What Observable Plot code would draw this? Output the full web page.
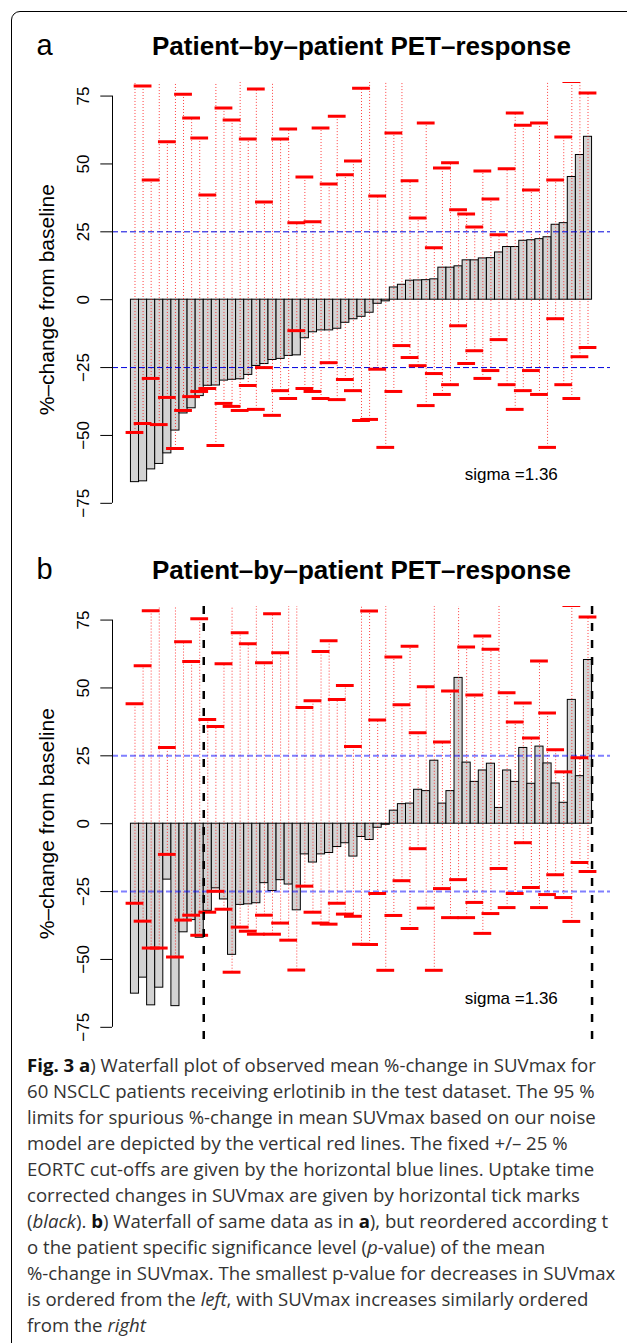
<!DOCTYPE html>
<html><head><meta charset="utf-8">
<script src="https://cdn.jsdelivr.net/npm/d3@7"></script>
<script src="https://cdn.jsdelivr.net/npm/@observablehq/plot@0.6"></script>
<style>
html,body{margin:0;padding:0;background:#fff;}
body{width:627px;height:1343px;overflow:hidden;position:relative;}
#frame{position:absolute;left:11px;top:11px;width:700px;height:1400px;border:1.5px solid #000;border-radius:9px;box-sizing:border-box;}
.panel{position:absolute;left:0;}
.panel svg{display:block;overflow:visible;}
#caption{position:absolute;left:27px;top:1052px;font-family:"Open Sans",sans-serif;font-size:18.6px;line-height:26px;color:#333;letter-spacing:0px;white-space:nowrap;}
#caption b{color:#111;}
</style></head><body>
<div id="frame"></div>
<div id="pa" class="panel" style="top:0px"></div>
<div id="pb" class="panel" style="top:524.4px"></div>
<div id="caption">
<div><b>Fig. 3 a</b>) Waterfall plot of observed mean %-change in SUVmax for</div>
<div>60 NSCLC patients receiving erlotinib in the test dataset. The 95 %</div>
<div>limits for spurious %-change in mean SUVmax based on our noise</div>
<div>model are depicted by the vertical red lines. The fixed +/– 25 %</div>
<div>EORTC cut-offs are given by the horizontal blue lines. Uptake time</div>
<div>corrected changes in SUVmax are given by horizontal tick marks</div>
<div>(<i>black</i>). <b>b</b>) Waterfall of same data as in <b>a</b>), but reordered according t</div>
<div>o the patient specific significance level (<i>p</i>-value) of the mean</div>
<div>%-change in SUVmax. The smallest p-value for decreases in SUVmax</div>
<div>is ordered from the <i>left</i>, with SUVmax increases similarly ordered</div>
<div>from the <i>right</i></div>
</div>
<script>
// ---- data ----
const panelLetters = ["a", "b"];
const titleText = "Patient–by–patient PET–response";
const yLabel = "%–change from baseline";
const sigmaText = "sigma =1.36";
const yTicks = [-75, -50, -25, 0, 25, 50, 75];
const eortcCutoffs = [-25, 25];
const splitLines = [9, 57];   // panel b: boundaries after bar 9 and bar 57

// panel a: sorted mean %-change
const aValues = [-67.2,-66.9,-62.5,-60.5,-56.6,-48.2,-41.9,-40.0,-35.5,-31.7,
  -31.6,-29.8,-29.5,-29.3,-27.7,-24.4,-23.7,-22.2,-21.8,-20.7,
  -20.5,-14.2,-12.0,-11.3,-11.3,-10.7,-8.5,-7.2,-6.3,-4.8,
  -1.5,-0.6,4.5,5.5,7.0,7.1,7.2,7.5,11.8,11.8,
  12.3,14.5,14.5,15.2,15.3,17.4,19.4,19.4,21.7,21.9,
  22.3,23.0,27.6,28.2,45.2,53.3,60.0];
// upper 95% limits (values of 90 lie above the visible range)
const aUpper = [90,78.7,44.1,90,58.2,90,75.7,66.9,59.6,38.6,
  90,70.6,66.2,90,59.2,77.6,36.0,90,59.2,62.9,
  28.3,45.2,28.7,63.2,42.6,67.6,46.0,51.1,77.9,90,
  38.2,90,61.4,90,43.8,30.1,65.1,19.1,48.5,50.4,
  33.1,31.6,26.8,47.4,37.1,23.9,48.2,68.8,64.3,40.4,
  65.1,90,44.1,59.9,80.4,90,76.1];
const aLower = [-48.9,-45.6,-29.0,-46.0,-36.0,-54.8,-40.8,-35.7,-33.8,-32.7,
  -53.7,-38.2,-39.3,-40.8,-31.6,-40.4,-25.0,-42.6,-33.5,-36.4,
  -11.4,-32.7,-33.8,-36.4,-23.2,-36.8,-29.4,-33.5,-44.5,-44.1,
  -25.6,-54.4,-33.8,-16.9,-21.3,-24.3,-39.0,-27.2,-34.9,-31.3,
  -9.6,-23.5,-18.8,-29.0,-26.1,-14.7,-31.3,-40.4,-33.5,-26.1,
  -34.9,-54.4,-7.0,-31.3,-36.4,-21.0,-17.6];

// panel b: same patients ordered by p-value
const bValues = [-62.6,-56.7,-66.9,-60.4,-20.6,-67.2,-40.0,-35.5,-42.0,-32.1,
  -23.8,-27.9,-48.3,-29.9,-29.7,-29.3,-21.9,-24.8,-20.8,-22.4,
  -31.9,-11.3,-14.3,-11.3,-10.8,-8.6,-7.2,-12.1,-4.9,-6.0,
  -1.5,-0.4,4.8,7.2,7.4,12.5,12.0,23.2,7.4,12.0,
  53.7,22.5,15.4,19.6,22.1,5.8,19.6,15.4,27.9,14.7,
  28.4,22.2,14.8,7.7,45.6,17.5,60.3];
const bUpper = [44.2,58.2,78.4,90,28.1,90,67.0,59.7,75.5,38.4,
  35.8,58.9,90,70.3,66.3,90,59.3,77.3,63.0,90,
  90,42.8,45.3,63.4,67.4,45.7,50.9,28.4,90,78.3,
  38.2,90,61.4,43.8,65.4,33.5,50.4,90,30.1,48.9,
  90,65.1,47.4,69.1,64.3,90,48.2,37.5,44.5,31.6,
  59.9,40.8,27.2,19.1,80.4,24.3,76.1];
const bLower = [-29.3,-35.9,-45.8,-45.8,-11.3,-49.1,-35.5,-33.7,-41.1,-32.6,
  -24.9,-31.5,-54.7,-38.1,-39.6,-40.7,-33.7,-40.7,-36.6,-42.9,
  -53.9,-23.0,-32.6,-36.6,-37.0,-29.3,-33.3,-34.1,-44.4,-44.5,
  -25.7,-54.0,-33.8,-21.0,-38.6,-9.2,-31.1,-54.0,-23.9,-34.6,
  -20.6,-34.6,-29.0,-40.4,-33.1,-16.5,-30.9,-25.7,-7.0,-23.5,
  -30.9,-26.1,-18.8,-27.2,-36.0,-14.3,-17.6];

// ---- drawing ----
const W = 627, H = 540, ML = 112, MR = 17, MT = 82, MB = 540 - 516.4;
const tickHalf = 1.1;
const fmt = d => d < 0 ? "\u2212" + Math.abs(d) : String(d);

function panel(letter, values, upper, lower, isB) {
  const n = values.length;
  const rows = values.map((v, i) => ({i: i + 1, v, up: upper[i], lo: lower[i]}));
  const xDomain = [-0.04 * n, n * 1.04];
  const marks = [
    Plot.rectY(rows, {x1: d => d.i - 1, x2: d => d.i, y1: 0, y2: "v",
      fill: "#d3d3d3", stroke: "#000", strokeWidth: 1}),
    Plot.ruleX(rows, {x: d => d.i - 0.5, y1: "lo", y2: "up", stroke: "#ff0000",
      strokeWidth: 1, strokeDasharray: "1,2", strokeOpacity: 0.75, clip: true}),
    Plot.ruleY(eortcCutoffs, isB
      ? {stroke: "#0000ff", strokeOpacity: 0.5, strokeWidth: 2, strokeDasharray: "6,3"}
      : {stroke: "#0000dd", strokeWidth: 1, strokeDasharray: "6,3"}),
    Plot.ruleY(rows, {y: "up", x1: d => d.i - 0.5 - tickHalf, x2: d => d.i - 0.5 + tickHalf,
      stroke: "#ff0000", strokeWidth: 3, clip: true}),
    Plot.ruleY(rows, {y: "lo", x1: d => d.i - 0.5 - tickHalf, x2: d => d.i - 0.5 + tickHalf,
      stroke: "#ff0000", strokeWidth: 3, clip: true}),
    Plot.ruleX([xDomain[0]], {y1: yTicks[0], y2: yTicks[yTicks.length - 1], stroke: "#000", strokeWidth: 1}),
    Plot.axisY(yTicks, {tickSize: 11.7, tickPadding: 12, tickRotate: -90, tickFormat: fmt,
      fontSize: 17, label: null, stroke: "#000"}),
    Plot.text([yLabel], {frameAnchor: "left", text: d => d, rotate: -90, dx: -59,
      textAnchor: "middle", lineAnchor: "bottom", fontSize: 21, fill: "#000"}),
    Plot.text([titleText], {frameAnchor: "top", text: d => d, dy: -28, lineAnchor: "bottom",
      fontSize: 26, fontWeight: "bold", fill: "#000"}),
    Plot.text([letter], {frameAnchor: "top-left", text: d => d, dx: -76, dy: -28,
      textAnchor: "start", lineAnchor: "bottom", fontSize: 29, fill: "#000"}),
    Plot.text([sigmaText], {frameAnchor: "bottom-right", text: d => d, dx: -52.7, dy: -37.1,
      textAnchor: "end", lineAnchor: "bottom", fontSize: 17, fill: "#000"})
  ];
  if (isB) marks.push(Plot.ruleX(splitLines, {stroke: "#000", strokeWidth: 2.5, strokeDasharray: "8,9"}));
  return Plot.plot({
    width: W, height: H,
    marginLeft: ML, marginRight: MR, marginTop: MT, marginBottom: MB,
    x: {domain: xDomain, axis: null},
    y: {domain: [-80, 80], axis: null},
    style: {fontFamily: "'Liberation Sans', Arial, Helvetica, sans-serif", fontSize: "17px",
      background: "transparent", overflow: "visible", color: "#000"},
    marks
  });
}

document.getElementById("pa").appendChild(panel(panelLetters[0], aValues, aUpper, aLower, false));
document.getElementById("pb").appendChild(panel(panelLetters[1], bValues, bUpper, bLower, true));
</script>
</body></html>
